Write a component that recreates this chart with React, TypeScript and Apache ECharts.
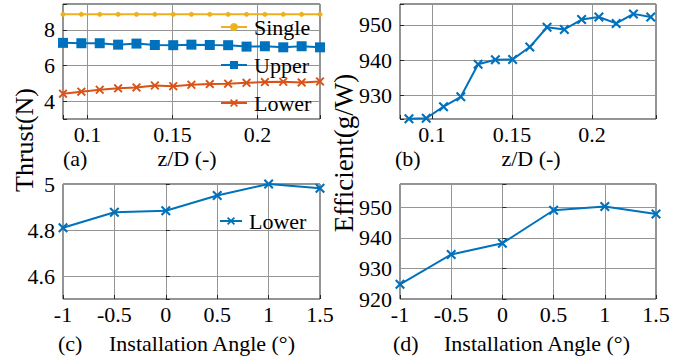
import React, { useEffect, useRef } from "react";
import * as echarts from "echarts";

// ---- data ----
const zdValues = [0.0856, 0.0964, 0.1072, 0.118, 0.1288, 0.1396, 0.1504, 0.1611, 0.1719, 0.1827, 0.1935, 0.2043, 0.2151, 0.2259, 0.2367];
const thrustSingle = [8.87, 8.87, 8.87, 8.87, 8.87, 8.87, 8.87, 8.87, 8.87, 8.87, 8.87, 8.87, 8.87, 8.87, 8.87];
const thrustUpper = [7.27, 7.25, 7.25, 7.17, 7.23, 7.15, 7.14, 7.17, 7.15, 7.14, 7.06, 7.08, 7.02, 7.08, 7.02];
const thrustLower = [4.42, 4.53, 4.64, 4.72, 4.77, 4.88, 4.84, 4.92, 4.96, 4.98, 5.03, 5.07, 5.09, 5.05, 5.11];
const effZd = [923.4, 923.5, 926.8, 929.6, 938.8, 940.1, 940.2, 943.7, 949.3, 948.7, 951.5, 952.2, 950.4, 953.1, 952.2];

const angleValues = [-1, -0.5, 0, 0.5, 1, 1.5];
const thrustAngle = [4.81, 4.877, 4.884, 4.95, 5.0, 4.982];
const effAngle = [924.8, 934.6, 938.3, 949.1, 950.3, 947.9];

const ticksA_Y = [4, 6, 8];
const ticksAB_X = [0.1, 0.15, 0.2];
const ticksB_Y = [930, 940, 950];
const ticksC_Y = [4.6, 4.8, 5];
const ticksD_Y = [920, 930, 940, 950];

const FONT = "Liberation Serif";
const FS = 22;
const C_YELLOW = "#EDB120";
const C_BLUE = "#0072BD";
const C_ORANGE = "#D95319";
const X_PATH = "path://M0,1.5L1.5,0L5,3.5L8.5,0L10,1.5L6.5,5L10,8.5L8.5,10L5,6.5L1.5,10L0,8.5L3.5,5Z";

function pick(list: number[]) {
  return (v: number) => (list.some((t) => Math.abs(t - v) < 1e-6) ? String(v) : "");
}

function makeX(idx: number, min: number, max: number, list: number[], interval?: number) {
  const ax: any = {
    type: "value",
    gridIndex: idx,
    min,
    max,
    axisLine: { show: false },
    axisTick: { show: true, inside: true, length: 4, lineStyle: { color: "#262626" } },
    splitLine: { show: true, lineStyle: { color: "#959595", width: 1 } },
    axisLabel: { formatter: pick(list), fontSize: FS, fontFamily: FONT, color: "#000", margin: 4 },
  };
  if (interval) ax.interval = interval;
  else ax.splitNumber = 3;
  return ax;
}

function makeY(idx: number, min: number, max: number, list: number[], interval?: number) {
  const ax: any = {
    type: "value",
    gridIndex: idx,
    min,
    max,
    axisLine: { show: false },
    axisTick: { show: true, inside: true, length: 4, lineStyle: { color: "#262626" } },
    splitLine: { show: true, lineStyle: { color: "#959595", width: 1 } },
    axisLabel: { formatter: pick(list), fontSize: FS, fontFamily: FONT, color: "#000", margin: 8 },
  };
  if (interval) ax.interval = interval;
  else ax.splitNumber = 3;
  return ax;
}

function pairs(xs: number[], ys: number[]) {
  return xs.map((x, i) => [x, ys[i]]);
}

function txt(text: string, x: number, y: number, align: string, size = FS, rotation = 0) {
  return {
    type: "text",
    x,
    y,
    rotation,
    style: { text, fontSize: size, fontFamily: FONT, fill: "#000", align, verticalAlign: "middle" },
  };
}

export default function App() {
  const ref = useRef<HTMLDivElement>(null);
  useEffect(() => {
    if (!ref.current) return;
    const chart = echarts.init(ref.current, undefined, { renderer: "svg" });
    const gridBase = { show: true, borderColor: "#262626", borderWidth: 1, backgroundColor: "transparent", containLabel: false };
    chart.setOption({
      animation: false,
      backgroundColor: "#fff",
      textStyle: { fontFamily: FONT },
      grid: [
        { ...gridBase, left: 63, top: 4, width: 257, height: 115 },
        { ...gridBase, left: 400, top: 4, width: 256, height: 115 },
        { ...gridBase, left: 63, top: 184, width: 257, height: 115 },
        { ...gridBase, left: 400, top: 184, width: 256, height: 115 },
      ],
      xAxis: [
        makeX(0, 0.0856, 0.2367, ticksAB_X),
        makeX(1, 0.08, 0.24, ticksAB_X),
        makeX(2, -1, 1.5, angleValues, 0.5),
        makeX(3, -1, 1.5, angleValues, 0.5),
      ],
      yAxis: [
        makeY(0, 3, 9.45, ticksA_Y),
        makeY(1, 923.3, 955.9, ticksB_Y),
        makeY(2, 4.5, 5.0, ticksC_Y),
        makeY(3, 920, 957.7, ticksD_Y, 10),
      ],
      legend: [
        {
          orient: "vertical",
          left: 215,
          top: 11,
          itemWidth: 26,
          itemHeight: 10,
          itemGap: 16,
          data: ["Single", "Upper", "Lower"],
          textStyle: { fontSize: FS, fontFamily: FONT, color: "#000", padding: [0, 0, 0, 2] },
        },
        {
          orient: "vertical",
          left: 214,
          top: 205,
          itemWidth: 22,
          itemHeight: 10,
          data: ["Lower (c)"],
          formatter: () => "Lower",
          textStyle: { fontSize: FS, fontFamily: FONT, color: "#000", padding: [0, 0, 0, 2] },
        },
      ],
      series: [
        {
          name: "Single",
          type: "line",
          xAxisIndex: 0,
          yAxisIndex: 0,
          data: pairs(zdValues, thrustSingle),
          symbol: "circle",
          symbolSize: 5,
          clip: false,
          lineStyle: { color: C_YELLOW, width: 2 },
          itemStyle: { color: C_YELLOW },
        },
        {
          name: "Upper",
          type: "line",
          xAxisIndex: 0,
          yAxisIndex: 0,
          data: pairs(zdValues, thrustUpper),
          symbol: "rect",
          symbolSize: 10,
          clip: false,
          lineStyle: { color: C_BLUE, width: 2 },
          itemStyle: { color: C_BLUE },
        },
        {
          name: "Lower",
          type: "line",
          xAxisIndex: 0,
          yAxisIndex: 0,
          data: pairs(zdValues, thrustLower),
          symbol: X_PATH,
          symbolSize: 9,
          clip: false,
          lineStyle: { color: C_ORANGE, width: 2 },
          itemStyle: { color: C_ORANGE },
        },
        {
          name: "Efficiency z/D",
          type: "line",
          xAxisIndex: 1,
          yAxisIndex: 1,
          data: pairs(zdValues, effZd),
          symbol: X_PATH,
          symbolSize: 10,
          clip: false,
          lineStyle: { color: C_BLUE, width: 2 },
          itemStyle: { color: C_BLUE },
        },
        {
          name: "Lower (c)",
          type: "line",
          xAxisIndex: 2,
          yAxisIndex: 2,
          data: pairs(angleValues, thrustAngle),
          symbol: X_PATH,
          symbolSize: 10,
          clip: false,
          lineStyle: { color: C_BLUE, width: 2 },
          itemStyle: { color: C_BLUE },
        },
        {
          name: "Efficiency angle",
          type: "line",
          xAxisIndex: 3,
          yAxisIndex: 3,
          data: pairs(angleValues, effAngle),
          symbol: X_PATH,
          symbolSize: 10,
          clip: false,
          lineStyle: { color: C_BLUE, width: 2 },
          itemStyle: { color: C_BLUE },
        },
      ],
      graphic: [
        txt("Thrust(N)", 24, 140, "center", 26, Math.PI / 2),
        txt("Efficient(g/W)", 344, 153, "center", 27, Math.PI / 2),
        txt("(a)", 63, 158, "left"),
        txt("z/D (-)", 187, 158, "center"),
        txt("(b)", 395, 158, "left"),
        txt("z/D (-)", 531, 158, "center"),
        txt("(c)", 58, 343, "left"),
        txt("Installation Angle (°)", 202, 343, "center"),
        txt("(d)", 393, 343, "left"),
        txt("Installation Angle (°)", 537, 343, "center"),
      ],
    });
    return () => chart.dispose();
  }, []);
  return <div ref={ref} style={{ position: "absolute", left: 0, top: 0, width: 696, height: 362 }} />;
}
